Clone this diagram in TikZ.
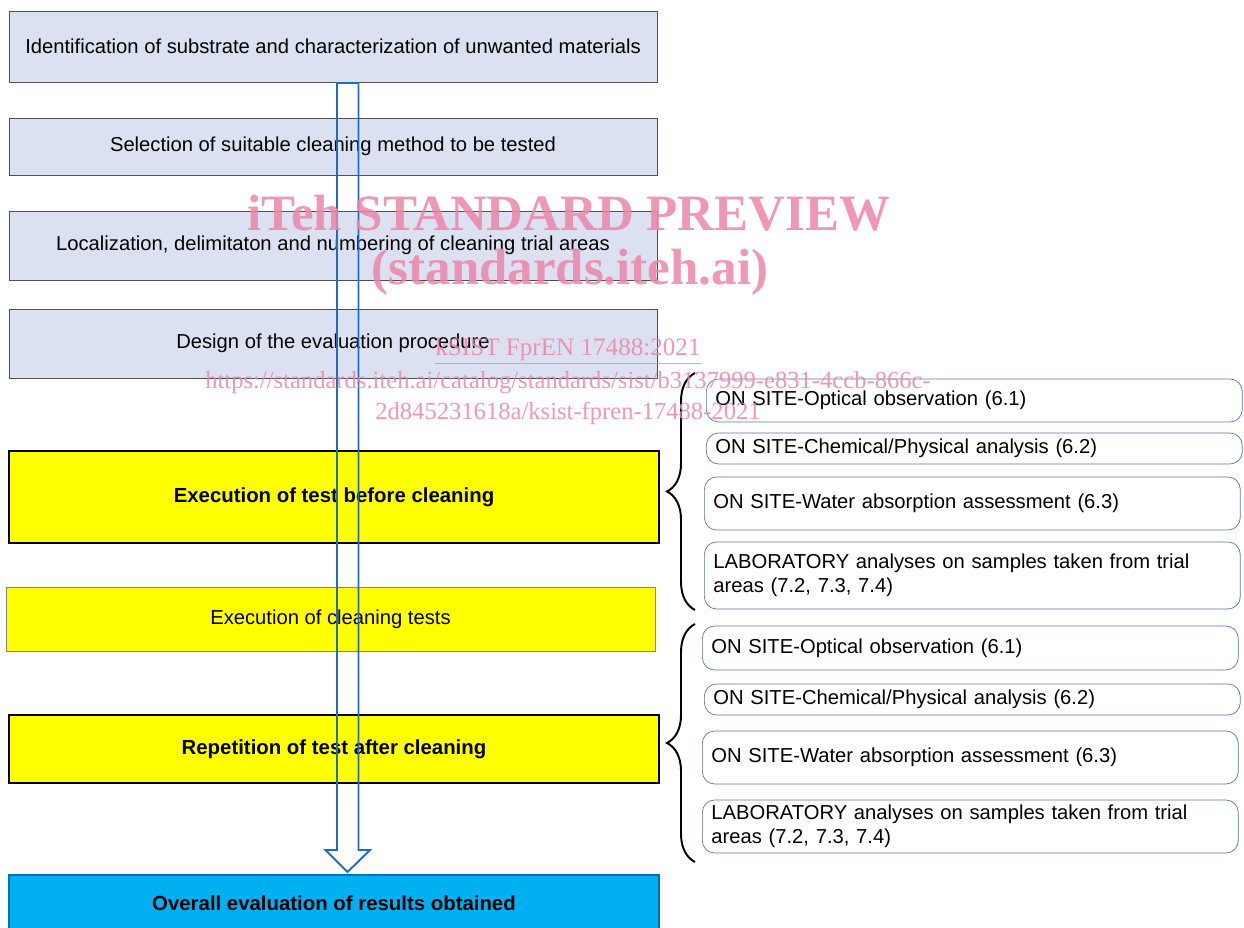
\documentclass[tikz,border=0pt]{standalone}
\usepackage{fontspec}
\setmainfont{Liberation Sans}
\newfontfamily\wmfont{Liberation Serif}
\usepackage{tikz}
\usetikzlibrary{decorations.pathreplacing}
\usepackage{xcolor}
\definecolor{step_lavender}{HTML}{DCE1F1}
\definecolor{step_border}{HTML}{505050}
\definecolor{test_yellow}{HTML}{FFFF00}
\definecolor{final_blue}{HTML}{00B0F0}
\definecolor{final_border}{HTML}{0070C0}
\definecolor{flow_blue}{HTML}{1F6CC0}
\definecolor{site_border}{HTML}{5B74AE}
\definecolor{mark_pink}{HTML}{EC85A8}

\tikzset{
    stepbox/.style={draw=step_border, fill=step_lavender, minimum width=12.96cm, inner sep=0pt},
    testbox/.style={draw=black, fill=test_yellow, line width=1.2pt, minimum width=13cm, inner sep=0pt, font=\fontsize{11.6pt}{14pt}\selectfont\bfseries},
    sitebox/.style={draw=site_border, fill=white, rounded corners=7pt, anchor=west, minimum width=10.72cm, text width=10.36cm, inner xsep=0.18cm, inner ysep=0pt, align=left},
    groupbrace/.style={decorate, decoration={brace, amplitude=0.56cm}, line width=1.1pt},
    flowarrow/.style={draw=flow_blue, line width=1.1pt, line join=miter},
    watermark/.style={text=mark_pink, opacity=0.85, inner sep=0pt}
}

\begin{document}
\begin{tikzpicture}[x=0.02cm, y=-0.02cm, font=\fontsize{11.5pt}{13.6pt}\selectfont]
	\useasboundingbox (0,0) rectangle (1244,928);
	\clip (0,0) rectangle (1244,928);

	% left column
	\node [stepbox, minimum height=1.42cm] (ident) at (333,46.5) {Identification of substrate and characterization of unwanted materials};
	\node [stepbox, minimum height=1.14cm] (select) at (333,146.5) {Selection of suitable cleaning method to be tested};
	\node [stepbox, minimum height=1.38cm] (local) at (333,245.5) {Localization, delimitaton and numbering of cleaning trial areas};
	\node [stepbox, minimum height=1.38cm] (design) at (333,343.5) {Design of the evaluation procedure};
	\node [testbox, minimum height=1.84cm] (before) at (334,497) {Execution of test before cleaning};
	\node [draw=step_border!70, fill=test_yellow, minimum width=12.98cm, minimum height=1.28cm, inner sep=0pt] (cleaning) at (330.5,619) {Execution of cleaning tests};
	\node [testbox, minimum height=1.36cm] (after) at (334,749) {Repetition of test after cleaning};
	\node [draw=final_border, fill=final_blue, line width=1.6pt, minimum width=13cm, minimum height=1.12cm, inner sep=0pt, font=\fontsize{11.6pt}{14pt}\selectfont\bfseries] (overall) at (334,903) {Overall evaluation of results obtained};

	% tests before cleaning
	\node [sitebox, minimum height=0.86cm] (pre1) at (706,400.5) {ON SITE-Optical observation (6.1)};
	\node [sitebox, minimum height=0.62cm] (pre2) at (706,448.5) {ON SITE-Chemical/Physical analysis (6.2)};
	\node [sitebox, minimum height=1.06cm] (pre3) at (704,503.5) {ON SITE-Water absorption assessment (6.3)};
	\node [sitebox, minimum height=1.34cm] (pre4) at (704,575.5) {LABORATORY analyses on samples taken from trial\\areas (7.2, 7.3, 7.4)};
	\draw [groupbrace] (695,610) -- (695,373);

	% tests after cleaning
	\node [sitebox, minimum height=0.88cm] (post1) at (702,648) {ON SITE-Optical observation (6.1)};
	\node [sitebox, minimum height=0.62cm] (post2) at (704,699.5) {ON SITE-Chemical/Physical analysis (6.2)};
	\node [sitebox, minimum height=1.06cm] (post3) at (702,757.5) {ON SITE-Water absorption assessment (6.3)};
	\node [sitebox, minimum height=1.06cm] (post4) at (702,826.5) {LABORATORY analyses on samples taken from trial\\areas (7.2, 7.3, 7.4)};
	\draw [groupbrace] (695,862) -- (695,624);

	% flow arrow
	\coordinate (arrtop) at (347.5,83);
	\coordinate (arrtip) at (347.5,872);
	\draw [flowarrow] (arrtop) ++(-10.5,0) -- ++(0,767) -- ++(-11.5,0) -- (arrtip) -- ++(22.5,-22) -- ++(-11.5,0) -- ++(0,-767) -- cycle;

	% watermark
	\node [watermark, font=\wmfont\bfseries\fontsize{29pt}{30pt}\selectfont] (mark1) at (569,213) {iTeh STANDARD PREVIEW};
	\node [watermark, font=\wmfont\bfseries\fontsize{29pt}{30pt}\selectfont] (mark2) at (570,272) {(standards.iteh.ai)};
	\node [watermark, font=\wmfont\fontsize{14.3pt}{15pt}\selectfont] (mark3) at (568,351) {\underline{kSIST FprEN 17488:2021}};
	\node [watermark, font=\wmfont\fontsize{14pt}{15pt}\selectfont] (mark4) at (568,383) {https://standards.iteh.ai/catalog/standards/sist/b3137999-e831-4ccb-866c-};
	\node [watermark, font=\wmfont\fontsize{14pt}{15pt}\selectfont] (mark5) at (568,413) {2d845231618a/ksist-fpren-17488-2021};
\end{tikzpicture}
\end{document}
